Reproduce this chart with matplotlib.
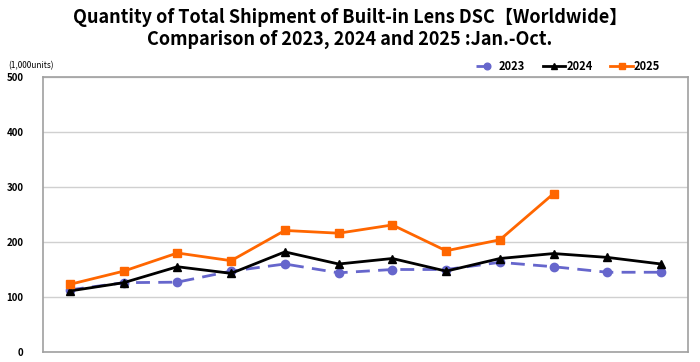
import matplotlib.pyplot as plt

months = ['Jan', 'Feb', 'Mar', 'Apr', 'May', 'Jun', 'Jul', 'Aug', 'Sep', 'Oct', 'Nov', 'Dec']
y2023 = [113, 126, 127, 147, 160, 144, 150, 150, 163, 155, 145, 145]
y2024 = [111, 126, 155, 143, 182, 160, 170, 147, 170, 179, 172, 160]
y2025 = [123, 147, 180, 166, 221, 216, 231, 184, 204, 288]

plt.rcParams['font.family'] = ['Noto Sans CJK JP', 'DejaVu Sans']

fig = plt.figure(figsize=(7, 3.62), dpi=100)
ax = fig.add_axes([43 / 700, 10 / 362, 645 / 700, 275 / 362])

x = list(range(len(months)))
ax.plot(x, y2023, color='#6666CC', linestyle=(0, (5, 3)), linewidth=2,
        marker='o', markersize=6, label='2023')
ax.plot(x, y2024, color='black', linewidth=2, marker='^', markersize=6, label='2024')
ax.plot(x[:len(y2025)], y2025, color='#FF6600', linewidth=2, marker='s',
        markersize=6, label='2025')

ax.set_xlim(-0.5, len(months) - 0.5)
ax.set_ylim(0, 500)
ax.set_yticks([0, 100, 200, 300, 400, 500])
ax.set_xticks([])
ax.tick_params(axis='y', length=0, labelsize=7, pad=14)
for lbl in ax.get_yticklabels():
    lbl.set_fontweight('bold')
ax.grid(axis='y', color='#D0D0D0', linewidth=1)
ax.set_axisbelow(True)
for s in ax.spines.values():
    s.set_color('#A0A0A0')
    s.set_linewidth(1.2)

fig.text(8 / 700, 1 - 66 / 362, '(1,000units)', fontsize=6, va='center')

fig.text(0.5, 1 - 17 / 362, 'Quantity of Total Shipment of Built-in Lens DSC【Worldwide】',
         ha='center', va='center', fontsize=13, fontweight='bold')
fig.text(0.5, 1 - 39 / 362, 'Comparison of 2023, 2024 and 2025 :Jan.-Oct.',
         ha='center', va='center', fontsize=13, fontweight='bold')

fig.legend(loc='center right', bbox_to_anchor=(670 / 700, 1 - 66 / 362), ncol=3,
           frameon=False, handlelength=2.0, handletextpad=0.1,
           columnspacing=1.6, markerscale=0.8, prop={'weight': 'bold', 'size': 8})

fig.savefig('out.png', dpi=100)
